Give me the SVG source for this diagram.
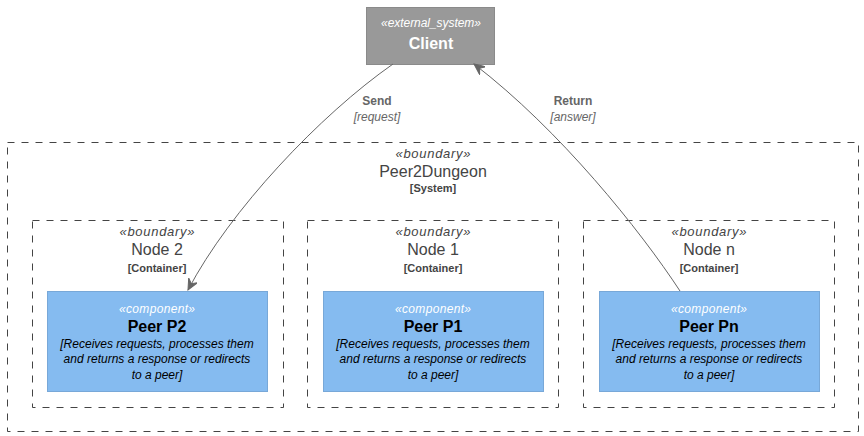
<svg xmlns="http://www.w3.org/2000/svg" width="864" height="436" viewBox="0 0 864 436">
<style>
text{font-family:"Liberation Sans",Arial,sans-serif;text-anchor:middle}
.bnd{fill:none;stroke:#444;stroke-width:1;stroke-dasharray:7,7}
.st{font-size:13px;font-style:italic;fill:#444}
.bn{font-size:16px;fill:#444}
.bt{font-size:11px;font-weight:bold;fill:#444}
.comp{fill:#85BBF0;stroke:#78A8D8;stroke-width:1}
.cst{font-size:12px;font-style:italic;fill:#fff}
.cn{font-size:16px;font-weight:bold;fill:#000}
.cd{font-size:12px;font-style:italic;fill:#000}
.conn{fill:none;stroke:#666;stroke-width:1}
.ll{font-size:12px;font-weight:bold;fill:#666}
.lt{font-size:12px;font-style:italic;fill:#666}
</style>
<defs>
<marker id="arr" viewBox="0 0 12 10" refX="11" refY="5" markerWidth="12" markerHeight="10" markerUnits="userSpaceOnUse" orient="auto">
<path d="M0,0 L11,5 L0,10 L4,5 z" fill="#666" stroke="#666" stroke-width="1"/>
</marker>
</defs>
<g id="boundary-system">
<rect class="bnd" x="7.5" y="142.5" width="851" height="289"/>
<text class="st" x="433" y="158" textLength="75" lengthAdjust="spacing">«boundary»</text>
<text class="bn" x="433" y="177">Peer2Dungeon</text>
<text class="bt" x="433" y="192">[System]</text>
</g>
<g id="boundary-node2">
<rect class="bnd" x="32.5" y="220.5" width="251" height="187"/>
<text class="st" x="157" y="236" textLength="75" lengthAdjust="spacing">«boundary»</text>
<text class="bn" x="157" y="255">Node 2</text>
<text class="bt" x="157" y="272">[Container]</text>
</g>
<g id="boundary-node1">
<rect class="bnd" x="307.5" y="220.5" width="251" height="187"/>
<text class="st" x="433" y="236" textLength="75" lengthAdjust="spacing">«boundary»</text>
<text class="bn" x="433" y="255">Node 1</text>
<text class="bt" x="433" y="272">[Container]</text>
</g>
<g id="boundary-noden">
<rect class="bnd" x="583.5" y="220.5" width="251" height="187"/>
<text class="st" x="709" y="236" textLength="75" lengthAdjust="spacing">«boundary»</text>
<text class="bn" x="709" y="255">Node n</text>
<text class="bt" x="709" y="272">[Container]</text>
</g>
<g id="client">
<rect x="366.5" y="7.5" width="128" height="57" fill="#999999" stroke="#8A8A8A"/>
<text class="cst" x="431" y="27" textLength="100" lengthAdjust="spacing">«external_system»</text>
<text class="cn" x="431" y="49" style="fill:#fff">Client</text>
</g>
<g id="peer-p2">
<rect class="comp" x="47.5" y="291.5" width="220" height="100"/>
<text class="cst" x="157" y="313" textLength="76" lengthAdjust="spacing">«component»</text>
<text class="cn" x="157" y="332">Peer P2</text>
<text class="cd" x="157" y="348">[Receives requests, processes them</text>
<text class="cd" x="157" y="363">and returns a response or redirects</text>
<text class="cd" x="157" y="379">to a peer]</text>
</g>
<g id="peer-p1">
<rect class="comp" x="323.5" y="291.5" width="220" height="100"/>
<text class="cst" x="433" y="313" textLength="76" lengthAdjust="spacing">«component»</text>
<text class="cn" x="433" y="332">Peer P1</text>
<text class="cd" x="433" y="348">[Receives requests, processes them</text>
<text class="cd" x="433" y="363">and returns a response or redirects</text>
<text class="cd" x="433" y="379">to a peer]</text>
</g>
<g id="peer-pn">
<rect class="comp" x="599.5" y="291.5" width="220" height="100"/>
<text class="cst" x="709" y="313" textLength="76" lengthAdjust="spacing">«component»</text>
<text class="cn" x="709" y="332">Peer Pn</text>
<text class="cd" x="709" y="348">[Receives requests, processes them</text>
<text class="cd" x="709" y="363">and returns a response or redirects</text>
<text class="cd" x="709" y="379">to a peer]</text>
</g>
<g id="connectors">
<path class="conn" d="M393,64 C320,115 230,210 188,290" marker-end="url(#arr)"/>
<text class="ll" x="377" y="105">Send</text>
<text class="lt" x="377" y="121">[request]</text>
<path class="conn" d="M680,291 C640,230 560,130 474,64" marker-end="url(#arr)"/>
<text class="ll" x="573" y="105">Return</text>
<text class="lt" x="573" y="121">[answer]</text>
</g>
</svg>
